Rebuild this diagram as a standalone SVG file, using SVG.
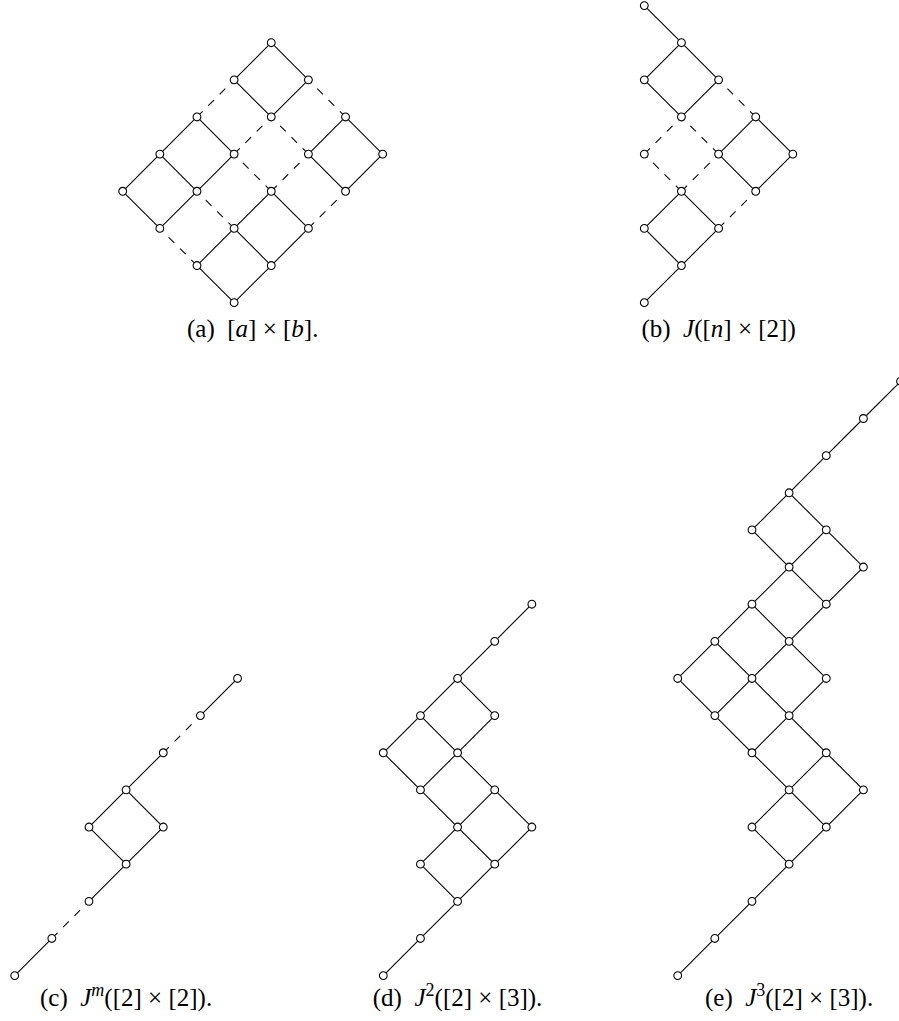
<svg xmlns="http://www.w3.org/2000/svg" width="899" height="1021" viewBox="0 0 899 1021">
<style>
.e{stroke:#000;stroke-width:1.07;fill:none;stroke-linecap:butt}
.d{stroke-dasharray:8 8}
.n use{fill:#fff;stroke:#000;stroke-width:1.07}
.cap{font-family:"Liberation Serif","DejaVu Serif",serif;font-size:25px;fill:#000;text-anchor:middle}
.i{font-style:italic}
.sup{font-size:18px}
</style>
<defs><circle id="c" r="3.9" fill="#fff" stroke="#000" stroke-width="1.07"/></defs>
<rect width="899" height="1021" fill="#fff"/>
<g id="connectors">
<g id="conn-a">
<line class="e" x1="271.26" y1="42.7" x2="234.12" y2="79.84"/>
<line class="e" x1="271.26" y1="42.7" x2="308.4" y2="79.84"/>
<line class="e" x1="234.12" y1="79.84" x2="271.26" y2="116.98"/>
<line class="e" x1="308.4" y1="79.84" x2="271.26" y2="116.98"/>
<line class="e" x1="196.98" y1="116.98" x2="159.84" y2="154.12"/>
<line class="e" x1="196.98" y1="116.98" x2="234.12" y2="154.12"/>
<line class="e" x1="159.84" y1="154.12" x2="122.7" y2="191.26"/>
<line class="e" x1="159.84" y1="154.12" x2="196.98" y2="191.26"/>
<line class="e" x1="234.12" y1="154.12" x2="196.98" y2="191.26"/>
<line class="e" x1="122.7" y1="191.26" x2="159.84" y2="228.4"/>
<line class="e" x1="196.98" y1="191.26" x2="159.84" y2="228.4"/>
<line class="e" x1="345.54" y1="116.98" x2="308.4" y2="154.12"/>
<line class="e" x1="345.54" y1="116.98" x2="382.68" y2="154.12"/>
<line class="e" x1="308.4" y1="154.12" x2="345.54" y2="191.26"/>
<line class="e" x1="382.68" y1="154.12" x2="345.54" y2="191.26"/>
<line class="e" x1="271.26" y1="191.26" x2="234.12" y2="228.4"/>
<line class="e" x1="271.26" y1="191.26" x2="308.4" y2="228.4"/>
<line class="e" x1="234.12" y1="228.4" x2="196.98" y2="265.54"/>
<line class="e" x1="234.12" y1="228.4" x2="271.26" y2="265.54"/>
<line class="e" x1="308.4" y1="228.4" x2="271.26" y2="265.54"/>
<line class="e" x1="196.98" y1="265.54" x2="234.12" y2="302.68"/>
<line class="e" x1="271.26" y1="265.54" x2="234.12" y2="302.68"/>
<line class="e d" x1="196.98" y1="116.98" x2="234.12" y2="79.84"/>
<line class="e d" x1="345.54" y1="116.98" x2="308.4" y2="79.84"/>
<line class="e d" x1="234.12" y1="154.12" x2="271.26" y2="116.98"/>
<line class="e d" x1="308.4" y1="154.12" x2="271.26" y2="116.98"/>
<line class="e d" x1="271.26" y1="191.26" x2="234.12" y2="154.12"/>
<line class="e d" x1="271.26" y1="191.26" x2="308.4" y2="154.12"/>
<line class="e d" x1="234.12" y1="228.4" x2="196.98" y2="191.26"/>
<line class="e d" x1="308.4" y1="228.4" x2="345.54" y2="191.26"/>
<line class="e d" x1="196.98" y1="265.54" x2="159.84" y2="228.4"/>
</g>
<g id="conn-b">
<line class="e" x1="644.3" y1="5.56" x2="681.44" y2="42.7"/>
<line class="e" x1="681.44" y1="42.7" x2="644.3" y2="79.84"/>
<line class="e" x1="681.44" y1="42.7" x2="718.58" y2="79.84"/>
<line class="e" x1="644.3" y1="79.84" x2="681.44" y2="116.98"/>
<line class="e" x1="718.58" y1="79.84" x2="681.44" y2="116.98"/>
<line class="e" x1="755.72" y1="116.98" x2="718.58" y2="154.12"/>
<line class="e" x1="755.72" y1="116.98" x2="792.86" y2="154.12"/>
<line class="e" x1="718.58" y1="154.12" x2="755.72" y2="191.26"/>
<line class="e" x1="792.86" y1="154.12" x2="755.72" y2="191.26"/>
<line class="e" x1="681.44" y1="191.26" x2="644.3" y2="228.4"/>
<line class="e" x1="681.44" y1="191.26" x2="718.58" y2="228.4"/>
<line class="e" x1="644.3" y1="228.4" x2="681.44" y2="265.54"/>
<line class="e" x1="718.58" y1="228.4" x2="681.44" y2="265.54"/>
<line class="e" x1="681.44" y1="265.54" x2="644.3" y2="302.68"/>
<line class="e d" x1="755.72" y1="116.98" x2="718.58" y2="79.84"/>
<line class="e d" x1="644.3" y1="154.12" x2="681.44" y2="116.98"/>
<line class="e d" x1="718.58" y1="154.12" x2="681.44" y2="116.98"/>
<line class="e d" x1="681.44" y1="191.26" x2="644.3" y2="154.12"/>
<line class="e d" x1="681.44" y1="191.26" x2="718.58" y2="154.12"/>
<line class="e d" x1="718.58" y1="228.4" x2="755.72" y2="191.26"/>
</g>
<g id="conn-c">
<line class="e" x1="237.54" y1="678.48" x2="200.4" y2="715.62"/>
<line class="e d" x1="163.26" y1="752.76" x2="200.4" y2="715.62"/>
<line class="e" x1="163.26" y1="752.76" x2="126.12" y2="789.9"/>
<line class="e" x1="126.12" y1="789.9" x2="88.98" y2="827.04"/>
<line class="e" x1="126.12" y1="789.9" x2="163.26" y2="827.04"/>
<line class="e" x1="88.98" y1="827.04" x2="126.12" y2="864.18"/>
<line class="e" x1="163.26" y1="827.04" x2="126.12" y2="864.18"/>
<line class="e" x1="126.12" y1="864.18" x2="88.98" y2="901.32"/>
<line class="e d" x1="51.84" y1="938.46" x2="88.98" y2="901.32"/>
<line class="e" x1="51.84" y1="938.46" x2="14.7" y2="975.6"/>
</g>
<g id="conn-d">
<line class="e" x1="531.86" y1="604.2" x2="494.72" y2="641.34"/>
<line class="e" x1="494.72" y1="641.34" x2="457.58" y2="678.48"/>
<line class="e" x1="457.58" y1="678.48" x2="420.44" y2="715.62"/>
<line class="e" x1="457.58" y1="678.48" x2="494.72" y2="715.62"/>
<line class="e" x1="420.44" y1="715.62" x2="383.3" y2="752.76"/>
<line class="e" x1="420.44" y1="715.62" x2="457.58" y2="752.76"/>
<line class="e" x1="494.72" y1="715.62" x2="457.58" y2="752.76"/>
<line class="e" x1="383.3" y1="752.76" x2="420.44" y2="789.9"/>
<line class="e" x1="457.58" y1="752.76" x2="420.44" y2="789.9"/>
<line class="e" x1="457.58" y1="752.76" x2="494.72" y2="789.9"/>
<line class="e" x1="420.44" y1="789.9" x2="457.58" y2="827.04"/>
<line class="e" x1="494.72" y1="789.9" x2="457.58" y2="827.04"/>
<line class="e" x1="494.72" y1="789.9" x2="531.86" y2="827.04"/>
<line class="e" x1="457.58" y1="827.04" x2="420.44" y2="864.18"/>
<line class="e" x1="457.58" y1="827.04" x2="494.72" y2="864.18"/>
<line class="e" x1="531.86" y1="827.04" x2="494.72" y2="864.18"/>
<line class="e" x1="420.44" y1="864.18" x2="457.58" y2="901.32"/>
<line class="e" x1="494.72" y1="864.18" x2="457.58" y2="901.32"/>
<line class="e" x1="457.58" y1="901.32" x2="420.44" y2="938.46"/>
<line class="e" x1="420.44" y1="938.46" x2="383.3" y2="975.6"/>
</g>
<g id="conn-e">
<line class="e" x1="900.54" y1="381.36" x2="863.4" y2="418.5"/>
<line class="e" x1="863.4" y1="418.5" x2="826.26" y2="455.64"/>
<line class="e" x1="826.26" y1="455.64" x2="789.12" y2="492.78"/>
<line class="e" x1="789.12" y1="492.78" x2="751.98" y2="529.92"/>
<line class="e" x1="789.12" y1="492.78" x2="826.26" y2="529.92"/>
<line class="e" x1="751.98" y1="529.92" x2="789.12" y2="567.06"/>
<line class="e" x1="826.26" y1="529.92" x2="789.12" y2="567.06"/>
<line class="e" x1="826.26" y1="529.92" x2="863.4" y2="567.06"/>
<line class="e" x1="789.12" y1="567.06" x2="751.98" y2="604.2"/>
<line class="e" x1="789.12" y1="567.06" x2="826.26" y2="604.2"/>
<line class="e" x1="863.4" y1="567.06" x2="826.26" y2="604.2"/>
<line class="e" x1="751.98" y1="604.2" x2="714.84" y2="641.34"/>
<line class="e" x1="751.98" y1="604.2" x2="789.12" y2="641.34"/>
<line class="e" x1="826.26" y1="604.2" x2="789.12" y2="641.34"/>
<line class="e" x1="714.84" y1="641.34" x2="677.7" y2="678.48"/>
<line class="e" x1="714.84" y1="641.34" x2="751.98" y2="678.48"/>
<line class="e" x1="789.12" y1="641.34" x2="751.98" y2="678.48"/>
<line class="e" x1="789.12" y1="641.34" x2="826.26" y2="678.48"/>
<line class="e" x1="677.7" y1="678.48" x2="714.84" y2="715.62"/>
<line class="e" x1="751.98" y1="678.48" x2="714.84" y2="715.62"/>
<line class="e" x1="751.98" y1="678.48" x2="789.12" y2="715.62"/>
<line class="e" x1="826.26" y1="678.48" x2="789.12" y2="715.62"/>
<line class="e" x1="714.84" y1="715.62" x2="751.98" y2="752.76"/>
<line class="e" x1="789.12" y1="715.62" x2="751.98" y2="752.76"/>
<line class="e" x1="789.12" y1="715.62" x2="826.26" y2="752.76"/>
<line class="e" x1="751.98" y1="752.76" x2="789.12" y2="789.9"/>
<line class="e" x1="826.26" y1="752.76" x2="789.12" y2="789.9"/>
<line class="e" x1="826.26" y1="752.76" x2="863.4" y2="789.9"/>
<line class="e" x1="789.12" y1="789.9" x2="751.98" y2="827.04"/>
<line class="e" x1="789.12" y1="789.9" x2="826.26" y2="827.04"/>
<line class="e" x1="863.4" y1="789.9" x2="826.26" y2="827.04"/>
<line class="e" x1="751.98" y1="827.04" x2="789.12" y2="864.18"/>
<line class="e" x1="826.26" y1="827.04" x2="789.12" y2="864.18"/>
<line class="e" x1="789.12" y1="864.18" x2="751.98" y2="901.32"/>
<line class="e" x1="751.98" y1="901.32" x2="714.84" y2="938.46"/>
<line class="e" x1="714.84" y1="938.46" x2="677.7" y2="975.6"/>
</g>
</g>
<g id="node-a" class="n">
<use href="#c" x="271.26" y="42.7"/>
<use href="#c" x="234.12" y="79.84"/><use href="#c" x="308.4" y="79.84"/>
<use href="#c" x="196.98" y="116.98"/><use href="#c" x="271.26" y="116.98"/><use href="#c" x="345.54" y="116.98"/>
<use href="#c" x="159.84" y="154.12"/><use href="#c" x="234.12" y="154.12"/><use href="#c" x="308.4" y="154.12"/><use href="#c" x="382.68" y="154.12"/>
<use href="#c" x="122.7" y="191.26"/><use href="#c" x="196.98" y="191.26"/><use href="#c" x="271.26" y="191.26"/><use href="#c" x="345.54" y="191.26"/>
<use href="#c" x="159.84" y="228.4"/><use href="#c" x="234.12" y="228.4"/><use href="#c" x="308.4" y="228.4"/>
<use href="#c" x="196.98" y="265.54"/><use href="#c" x="271.26" y="265.54"/>
<use href="#c" x="234.12" y="302.68"/>
</g>
<g id="node-b" class="n">
<use href="#c" x="644.3" y="5.56"/>
<use href="#c" x="681.44" y="42.7"/>
<use href="#c" x="644.3" y="79.84"/><use href="#c" x="718.58" y="79.84"/>
<use href="#c" x="681.44" y="116.98"/><use href="#c" x="755.72" y="116.98"/>
<use href="#c" x="644.3" y="154.12"/><use href="#c" x="718.58" y="154.12"/><use href="#c" x="792.86" y="154.12"/>
<use href="#c" x="681.44" y="191.26"/><use href="#c" x="755.72" y="191.26"/>
<use href="#c" x="644.3" y="228.4"/><use href="#c" x="718.58" y="228.4"/>
<use href="#c" x="681.44" y="265.54"/>
<use href="#c" x="644.3" y="302.68"/>
</g>
<g id="node-c" class="n">
<use href="#c" x="237.54" y="678.48"/>
<use href="#c" x="200.4" y="715.62"/>
<use href="#c" x="163.26" y="752.76"/>
<use href="#c" x="126.12" y="789.9"/>
<use href="#c" x="88.98" y="827.04"/><use href="#c" x="163.26" y="827.04"/>
<use href="#c" x="126.12" y="864.18"/>
<use href="#c" x="88.98" y="901.32"/>
<use href="#c" x="51.84" y="938.46"/>
<use href="#c" x="14.7" y="975.6"/>
</g>
<g id="node-d" class="n">
<use href="#c" x="531.86" y="604.2"/>
<use href="#c" x="494.72" y="641.34"/>
<use href="#c" x="457.58" y="678.48"/>
<use href="#c" x="420.44" y="715.62"/><use href="#c" x="494.72" y="715.62"/>
<use href="#c" x="383.3" y="752.76"/><use href="#c" x="457.58" y="752.76"/>
<use href="#c" x="420.44" y="789.9"/><use href="#c" x="494.72" y="789.9"/>
<use href="#c" x="457.58" y="827.04"/><use href="#c" x="531.86" y="827.04"/>
<use href="#c" x="420.44" y="864.18"/><use href="#c" x="494.72" y="864.18"/>
<use href="#c" x="457.58" y="901.32"/>
<use href="#c" x="420.44" y="938.46"/>
<use href="#c" x="383.3" y="975.6"/>
</g>
<g id="node-e" class="n">
<use href="#c" x="900.54" y="381.36"/>
<use href="#c" x="863.4" y="418.5"/>
<use href="#c" x="826.26" y="455.64"/>
<use href="#c" x="789.12" y="492.78"/>
<use href="#c" x="751.98" y="529.92"/><use href="#c" x="826.26" y="529.92"/>
<use href="#c" x="789.12" y="567.06"/><use href="#c" x="863.4" y="567.06"/>
<use href="#c" x="751.98" y="604.2"/><use href="#c" x="826.26" y="604.2"/>
<use href="#c" x="714.84" y="641.34"/><use href="#c" x="789.12" y="641.34"/>
<use href="#c" x="677.7" y="678.48"/><use href="#c" x="751.98" y="678.48"/><use href="#c" x="826.26" y="678.48"/>
<use href="#c" x="714.84" y="715.62"/><use href="#c" x="789.12" y="715.62"/>
<use href="#c" x="751.98" y="752.76"/><use href="#c" x="826.26" y="752.76"/>
<use href="#c" x="789.12" y="789.9"/><use href="#c" x="863.4" y="789.9"/>
<use href="#c" x="751.98" y="827.04"/><use href="#c" x="826.26" y="827.04"/>
<use href="#c" x="789.12" y="864.18"/>
<use href="#c" x="751.98" y="901.32"/>
<use href="#c" x="714.84" y="938.46"/>
<use href="#c" x="677.7" y="975.6"/>
</g>
<g id="captions">
<text id="cap-a" class="cap" x="252.7" y="337" xml:space="preserve">(a)  [<tspan class="i">a</tspan>] × [<tspan class="i">b</tspan>].</text>
<text id="cap-b" class="cap" x="718.6" y="337" xml:space="preserve">(b)  <tspan class="i">J</tspan>([<tspan class="i">n</tspan>] × [2])</text>
<text id="cap-c" class="cap" x="126.1" y="1006" xml:space="preserve">(c)  <tspan class="i">J</tspan><tspan class="i sup" dy="-10">m</tspan><tspan dy="10">([2] × [2]).</tspan></text>
<text id="cap-d" class="cap" x="457.6" y="1006" xml:space="preserve">(d)  <tspan class="i">J</tspan><tspan class="sup" dy="-10">2</tspan><tspan dy="10">([2] × [3]).</tspan></text>
<text id="cap-e" class="cap" x="789.1" y="1006" xml:space="preserve">(e)  <tspan class="i">J</tspan><tspan class="sup" dy="-10">3</tspan><tspan dy="10">([2] × [3]).</tspan></text>
</g>
</svg>
